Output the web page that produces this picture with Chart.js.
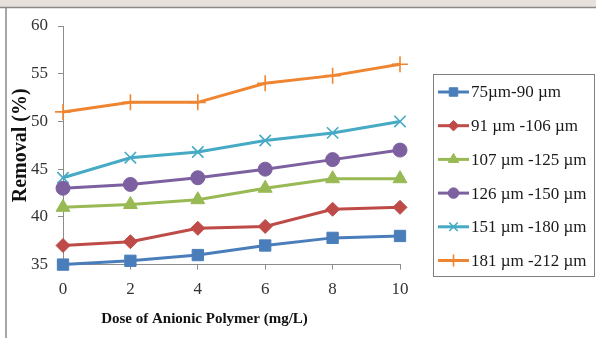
<!DOCTYPE html>
<html>
<head>
<meta charset="utf-8">
<script src="https://cdn.jsdelivr.net/npm/chart.js@4/dist/chart.umd.min.js"></script>
<style>
  html, body { margin: 0; padding: 0; background: #fff; }
  #wrap { width: 596px; height: 338px; position: relative; }
</style>
</head>
<body>
<div id="wrap"><canvas id="removalChart"></canvas></div>
<script>
// Chart data
const doses = ["0", "2", "4", "6", "8", "10"];
const sizeLabels = [
  "75\u00b5m-90 \u00b5m",
  "91 \u00b5m -106 \u00b5m",
  "107 \u00b5m -125 \u00b5m",
  "126 \u00b5m -150 \u00b5m",
  "151 \u00b5m -180 \u00b5m",
  "181 \u00b5m -212 \u00b5m",
];
const removal75 = [35, 35.4, 36, 37, 37.8, 38];
const removal91 = [37, 37.4, 38.8, 39, 40.8, 41];
const removal107 = [41, 41.3, 41.8, 43, 44, 44];
const removal126 = [43, 43.4, 44.1, 45, 46, 47];
const removal151 = [44.1, 46.2, 46.8, 48, 48.8, 50];
const removal181 = [51, 52, 52, 54, 54.8, 56];
const yTicks = [35, 40, 45, 50, 55, 60];

const serif = "'Liberation Serif', 'Times New Roman', serif";

// Series styles (Excel 2007 palette)
const seriesStyle = [
  { color: "#4a7ebb", point: "rect", radius: 8 },
  { color: "#be4b48", point: "rectRot", radius: 7 },
  { color: "#98b954", point: "triangle", radius: 8 },
  { color: "#7d60a0", point: "circle", radius: 7 },
  { color: "#46aac5", point: "crossRot", radius: 8 },
  { color: "#ef8530", point: "cross", radius: 8 },
];
const seriesData = [removal75, removal91, removal107, removal126, removal151, removal181];

const datasets = seriesData.map((data, i) => {
  const s = seriesStyle[i];
  const open = s.point === "cross" || s.point === "crossRot";
  return {
    label: sizeLabels[i],
    data: data,
    borderColor: s.color,
    backgroundColor: s.color,
    borderWidth: 3,
    tension: 0,
    clip: false,
    pointStyle: s.point,
    pointRadius: s.radius,
    pointBorderWidth: open ? 1.6 : 1,
    pointBorderColor: s.color,
    pointBackgroundColor: s.color,
  };
});

// Page frame, strip at the top, and boxed legend
const framePlugin = {
  id: "frame",
  beforeDraw(chart) {
    const ctx = chart.ctx;
    ctx.save();
    ctx.fillStyle = "#ffffff";
    ctx.fillRect(0, 0, chart.width, chart.height);
    ctx.fillStyle = "#e7e1dd";
    ctx.fillRect(0, 0, chart.width, 7);
    ctx.strokeStyle = "#8a8a8a";
    ctx.lineWidth = 1.5;
    ctx.beginPath();
    ctx.moveTo(0, 7.5);
    ctx.lineTo(chart.width, 7.5);
    ctx.moveTo(6, 7.5);
    ctx.lineTo(6, chart.height);
    ctx.stroke();
    ctx.restore();
  },
  afterDraw(chart) {
    const ctx = chart.ctx;
    ctx.save();
    ctx.strokeStyle = "#7f7f7f";
    ctx.lineWidth = 1;
    ctx.strokeRect(433.5, 74.5, 161, 202);
    ctx.font = "17px " + serif;
    ctx.textBaseline = "middle";
    ctx.textAlign = "left";
    chart.data.datasets.forEach((ds, i) => {
      const y = 92 + i * 33.7;
      ctx.strokeStyle = ds.borderColor;
      ctx.lineWidth = 3;
      ctx.beginPath();
      ctx.moveTo(438, y);
      ctx.lineTo(469, y);
      ctx.stroke();
      ctx.fillStyle = ds.pointBackgroundColor;
      ctx.strokeStyle = ds.pointBorderColor;
      ctx.lineWidth = ds.pointBorderWidth;
      Chart.helpers.drawPoint(ctx, {
        pointStyle: ds.pointStyle,
        rotation: 0,
        radius: ds.pointRadius * 0.75,
        borderWidth: ds.pointBorderWidth,
      }, 453.5, y);
      ctx.fillStyle = "#1a1a1a";
      ctx.fillText(ds.label, 471, y + 1);
    });
    ctx.restore();
  },
};

new Chart(document.getElementById("removalChart"), {
  type: "line",
  data: { labels: doses, datasets: datasets },
  options: {
    responsive: true,
    maintainAspectRatio: false,
    animation: false,
    layout: { padding: { left: 9, right: 196, top: 26, bottom: 0 } },
    plugins: {
      legend: { display: false },
      tooltip: { enabled: false },
      title: {
        display: true,
        position: "bottom",
        text: "Dose of Anionic Polymer (mg/L)",
        color: "#111",
        font: { family: serif, size: 15, weight: "bold" },
        padding: { top: 0, bottom: 10 },
      },
    },
    scales: {
      x: {
        offset: false,
        grid: {
          drawOnChartArea: false,
          drawTicks: true,
          tickLength: 5,
          color: "#8c8c8c",
        },
        border: { color: "#8c8c8c", width: 1 },
        ticks: {
          color: "#333",
          padding: 10,
          maxRotation: 0,
          font: { family: serif, size: 17 },
        },
      },
      y: {
        min: 35,
        max: 60,
        afterBuildTicks(axis) {
          axis.ticks = yTicks.map((v) => ({ value: v }));
        },
        grid: {
          drawOnChartArea: false,
          tickLength: 5,
          color: "#8c8c8c",
        },
        border: { color: "#8c8c8c", width: 1 },
        ticks: {
          color: "#333",
          padding: 10,
          font: { family: serif, size: 17 },
        },
        title: {
          display: true,
          text: "Removal (%)",
          color: "#111",
          font: { family: serif, size: 20, weight: "bold" },
          padding: { top: 0, bottom: -12 },
        },
      },
    },
  },
  plugins: [framePlugin],
});
</script>
</body>
</html>
